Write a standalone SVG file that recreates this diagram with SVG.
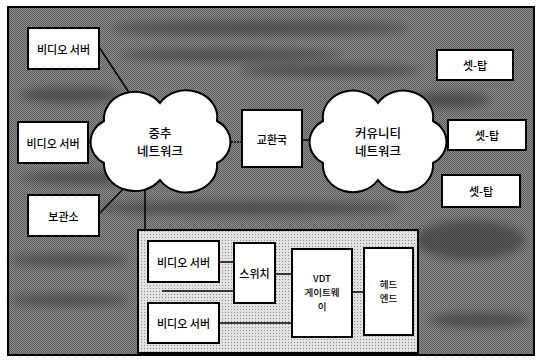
<svg xmlns="http://www.w3.org/2000/svg" width="541" height="361" viewBox="0 0 541 361">
<defs>
<pattern id="dither" width="2" height="2" patternUnits="userSpaceOnUse">
<rect width="1" height="1" fill="#000"/>
<rect x="1" y="1" width="1" height="1" fill="#000"/>
</pattern>
<pattern id="lightdither" width="3" height="3" patternUnits="userSpaceOnUse">
<rect width="3" height="3" fill="#e2e2e2"/>
<rect width="1" height="1" fill="#8a8a8a"/>
</pattern>
<filter id="blur" x="-20%" y="-50%" width="140%" height="200%"><feGaussianBlur stdDeviation="4"/></filter>
</defs>
<style>
.box{fill:#fff;stroke:#000;stroke-width:2}
.cloud{fill:#fff;stroke:#000;stroke-width:2}
.t{font-family:"Noto Sans CJK KR","Noto Sans",sans-serif;font-size:11px;font-weight:500;fill:#000;text-anchor:middle;dominant-baseline:central}
.ts{font-family:"Noto Sans CJK KR","Noto Sans",sans-serif;font-size:9.5px;font-weight:500;fill:#000;text-anchor:middle;dominant-baseline:central}
.tc{font-family:"Noto Sans CJK KR","Noto Sans",sans-serif;font-size:12.5px;font-weight:500;fill:#000;text-anchor:middle;dominant-baseline:central}
.ln{stroke:#000;stroke-width:1.5;fill:none}
.streak{fill:#000;opacity:0.32;filter:url(#blur)}
</style>
<rect x="0" y="0" width="541" height="361" fill="#fff"/>
<g id="background">
<rect x="8" y="7" width="526" height="348" fill="#8e8e8e"/>
<rect x="8" y="7" width="526" height="348" fill="url(#dither)" opacity="0.35"/>
<ellipse class="streak" cx="260" cy="28" rx="150" ry="7"/>
<ellipse class="streak" cx="230" cy="55" rx="110" ry="6"/>
<ellipse class="streak" cx="330" cy="70" rx="90" ry="6"/>
<ellipse class="streak" cx="70" cy="95" rx="50" ry="8"/>
<ellipse class="streak" cx="90" cy="178" rx="70" ry="6"/>
<ellipse class="streak" cx="250" cy="208" rx="150" ry="7"/>
<ellipse class="streak" cx="70" cy="260" rx="60" ry="6"/>
<ellipse class="streak" cx="70" cy="300" rx="60" ry="6"/>
<ellipse class="streak" cx="470" cy="240" rx="55" ry="20"/>
<ellipse class="streak" cx="480" cy="320" rx="50" ry="8"/>
<ellipse class="streak" cx="450" cy="100" rx="40" ry="8"/>
<rect x="8" y="7" width="526" height="348" fill="none" stroke="#000" stroke-width="2"/>
</g>
<g id="connectors">
<line class="ln" x1="99" y1="47" x2="132" y2="97"/>
<line class="ln" x1="88" y1="142" x2="95" y2="142"/>
<line class="ln" x1="99" y1="214" x2="130" y2="182"/>
<line class="ln" x1="228" y1="142" x2="242" y2="142" stroke-dasharray="2 1"/>
<line class="ln" x1="302" y1="140" x2="314" y2="140"/>
<line class="ln" x1="145" y1="185" x2="145" y2="231"/>
</g>
<g id="panel">
<rect x="138" y="230" width="280" height="123" fill="url(#lightdither)" stroke="#000" stroke-width="2"/>
</g>
<g id="panel-connectors">
<line class="ln" x1="219" y1="262" x2="234" y2="262"/>
<line class="ln" x1="162" y1="291" x2="234" y2="291"/>
<line class="ln" x1="219" y1="323" x2="292" y2="323"/>
<line class="ln" x1="275" y1="274" x2="292" y2="274"/>
<line class="ln" x1="352" y1="292" x2="364" y2="292"/>
</g>
<g id="video-server-1">
<rect class="box" x="28" y="28" width="71" height="41"/>
<text class="t" x="63.5" y="48.5">비디오 서버</text>
</g>
<g id="video-server-2">
<rect class="box" x="18" y="122" width="70" height="41"/>
<text class="t" x="53" y="142.5">비디오 서버</text>
</g>
<g id="storage">
<rect class="box" x="28" y="195" width="71" height="41"/>
<text class="t" x="63.5" y="215.5">보관소</text>
</g>
<g id="backbone-network">
<path class="cloud" d="M160,103 A31,27 0 0 0 104,121 A26,24 0 0 0 104,163 A31,27 0 0 0 160,180 A31,27 0 0 0 217,163 A26,24 0 0 0 217,121 A31,27 0 0 0 160,103 Z"/>
<text class="tc" x="160" y="132">중추</text>
<text class="tc" x="160" y="150">네트워크</text>
</g>
<g id="exchange">
<rect class="box" x="242" y="110" width="60" height="57"/>
<text class="t" x="272" y="139">교환국</text>
</g>
<g id="community-network">
<path class="cloud" d="M378,103 A30,27 0 0 0 323,121 A26,24 0 0 0 323,163 A30,27 0 0 0 378,180 A30,27 0 0 0 433,163 A26,24 0 0 0 433,121 A30,27 0 0 0 378,103 Z"/>
<text class="tc" x="378" y="132">커유니티</text>
<text class="tc" x="378" y="150">네트워크</text>
</g>
<g id="settop-1">
<rect class="box" x="437" y="50" width="76" height="30"/>
<text class="t" x="475" y="65">셋-탑</text>
</g>
<g id="settop-2">
<rect class="box" x="448" y="120" width="78" height="30"/>
<text class="t" x="487" y="135">셋-탑</text>
</g>
<g id="settop-3">
<rect class="box" x="442" y="175" width="78" height="32"/>
<text class="t" x="481" y="191">셋-탑</text>
</g>
<g id="video-server-a">
<rect class="box" x="148" y="241" width="71" height="41"/>
<text class="t" x="183.5" y="261.5">비디오 서버</text>
</g>
<g id="video-server-b">
<rect class="box" x="148" y="303" width="71" height="40"/>
<text class="t" x="183.5" y="323">비디오 서버</text>
</g>
<g id="switch">
<rect class="box" x="234" y="243" width="41" height="60"/>
<text class="t" x="254.5" y="273">스위치</text>
</g>
<g id="vdt-gateway">
<rect class="box" x="292" y="249" width="60" height="88"/>
<text class="ts" x="322" y="278">VDT</text>
<text class="ts" x="322" y="292">게이트웨</text>
<text class="ts" x="322" y="306">이</text>
</g>
<g id="head-end">
<rect class="box" x="364" y="248" width="49" height="87"/>
<text class="ts" x="388.5" y="283.5">헤드</text>
<text class="ts" x="388.5" y="297.5">엔드</text>
</g>
</svg>
